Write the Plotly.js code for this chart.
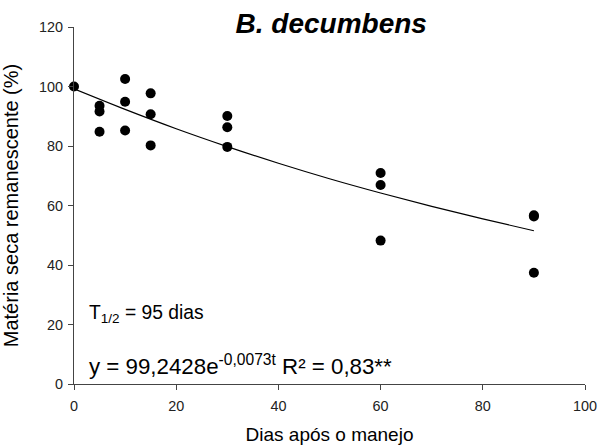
<!DOCTYPE html>
<html>
<head>
<meta charset="utf-8">
<script src="https://cdn.plot.ly/plotly-3.0.1.min.js"></script>
<style>html,body{margin:0;padding:0;background:#fff;}#chart{width:599px;height:446px;}</style>
</head>
<body>
<div id="chart"></div>
<script>
// Observed points
const days = [0, 5, 5, 5, 10, 10, 10, 15, 15, 15, 30, 30, 30, 60, 60, 60, 90, 90, 90];
const remaining = [100, 93.5, 91.6, 84.8, 102.5, 94.9, 85.2, 97.7, 90.7, 80.2, 90.1, 86.3, 79.7, 70.9, 66.9, 48.2, 56.7, 56.3, 37.4];
// Fitted curve
const fitDays = [0, 10, 20, 30, 40, 50, 60, 70, 80, 90];
const fitValues = [99.2, 92.3, 85.8, 79.8, 74.2, 69.0, 64.2, 59.7, 55.5, 51.5];
const xTicks = [0, 20, 40, 60, 80, 100];
const yTicks = [0, 20, 40, 60, 80, 100, 120];

const font = "Liberation Sans, Arial, sans-serif";
const data = [
  {x: fitDays, y: fitValues, mode: "lines", line: {color: "#000", width: 1.2, shape: "spline"}, hoverinfo: "skip"},
  {x: days, y: remaining, mode: "markers", marker: {color: "#000", size: 10}, cliponaxis: false}
];
const axisCommon = {
  showgrid: false, zeroline: false, showline: true, linecolor: "#444", linewidth: 1.2,
  ticks: "outside", ticklen: 5, tickcolor: "#444", tickwidth: 1,
  tickfont: {family: font, size: 14.4, color: "#222"}
};
const layout = {
  width: 599, height: 446,
  margin: {l: 74, r: 14, t: 27, b: 62},
  showlegend: false,
  paper_bgcolor: "#fff", plot_bgcolor: "#fff",
  title: {text: "<b><i>B. decumbens</i></b>", font: {family: font, size: 28, color: "#000"}, x: 0.553, xanchor: "center", y: 0.948, yanchor: "middle"},
  xaxis: Object.assign({}, axisCommon, {range: [0, 100], tickvals: xTicks, ticklabelstandoff: 4, title: {text: "Dias após o manejo", font: {family: font, size: 19, color: "#000"}, standoff: 14}}),
  yaxis: Object.assign({}, axisCommon, {range: [0, 120], tickvals: yTicks, ticklabelstandoff: 2, title: {text: "Matéria seca remanescente (%)", font: {family: font, size: 20, color: "#000"}, standoff: 16}}),
  annotations: [
    {text: "T<sub>1/2</sub> = 95 dias", xref: "paper", yref: "paper", x: 0.025, y: 0.195, xanchor: "left", yanchor: "middle", showarrow: false, font: {family: font, size: 19.3, color: "#000"}},
    {text: "y = 99,2428e<sup>-0,0073t</sup> R² = 0,83**", xref: "paper", yref: "paper", x: 0.025, y: 0.052, xanchor: "left", yanchor: "middle", showarrow: false, font: {family: font, size: 22.3, color: "#000"}}
  ]
};
Plotly.newPlot("chart", data, layout, {displayModeBar: false, staticPlot: true});
</script>
</body>
</html>
